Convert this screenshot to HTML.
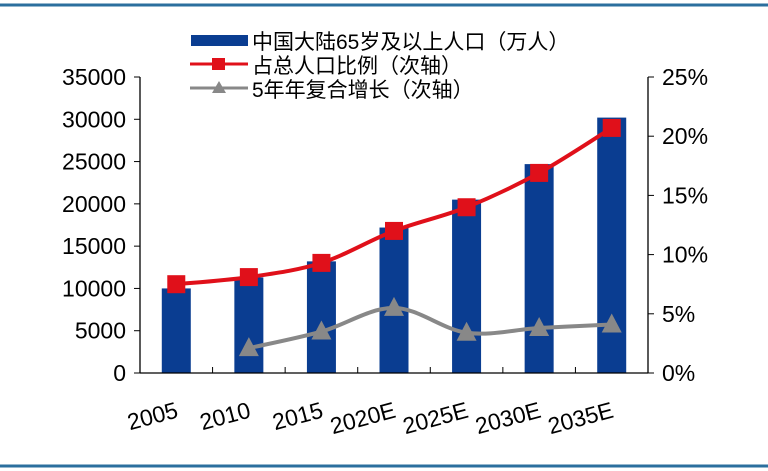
<!DOCTYPE html>
<html><head><meta charset="utf-8"><style>
body{margin:0;background:#fff;}
svg{display:block;font-family:"Liberation Sans","Noto Sans CJK SC",sans-serif;}
</style></head><body>
<svg id="c" width="768" height="471">
<line x1="0" y1="5" x2="768" y2="5" stroke="#2b6f9e" stroke-width="3"/>
<line x1="0" y1="466" x2="768" y2="466" stroke="#2b6f9e" stroke-width="3"/>
<g>
<g><rect x="191" y="35" width="57" height="11" fill="#0a3d91"/><text x="252" y="49" font-size="21">中国大陆65岁及以上人口（万人）</text></g>
<g><line x1="190" y1="64" x2="248" y2="64" stroke="#e0101a" stroke-width="3"/><rect x="212" y="58" width="13" height="12" fill="#e0101a"/><text x="252" y="73" font-size="21">占总人口比例（次轴）</text></g>
<g><line x1="190" y1="88" x2="248" y2="88" stroke="#888" stroke-width="3"/><polygon points="219,81 226,93 212,93" fill="#888"/><text x="252" y="97" font-size="21">5年年复合增长（次轴）</text></g>
</g>
<g id="plot"></g>
</svg>
<script>
const categories=["2005","2010","2015","2020E","2025E","2030E","2035E"];
const population=[10000,11300,13200,17200,20500,24700,30200];
const shareOfTotal=[7.5,8.1,9.3,12.0,14.0,16.9,20.7];
const cagr5y=[null,2.1,3.5,5.5,3.4,3.8,4.1];
const leftTicks=[0,5000,10000,15000,20000,25000,30000,35000];
const rightTicks=[0,5,10,15,20,25];

const NS="http://www.w3.org/2000/svg";
const g=document.getElementById('plot');
const X0=140,X1=648,Y0=373,Y1=77;
const bw=(X1-X0)/categories.length;
const xc=i=>X0+bw*(i+0.5);
const yL=v=>Y0-(v/35000)*(Y0-Y1);
const yR=v=>Y0-(v/25)*(Y0-Y1);
function el(t,a,txt){const e=document.createElementNS(NS,t);for(const k in a)e.setAttribute(k,a[k]);if(txt!=null)e.textContent=txt;g.appendChild(e);return e;}

population.forEach((v,i)=>{const r=el('rect',{x:xc(i)-14.5,y:yL(v),width:29,height:Y0-yL(v),fill:'#0a3d91'});

});

let a=el('line',{x1:X0,y1:Y1,x2:X0,y2:Y0,stroke:'#000','stroke-width':1.3});

a=el('line',{x1:X0,y1:Y0,x2:X1,y2:Y0,stroke:'#000','stroke-width':1.3});

a=el('line',{x1:X1,y1:Y1,x2:X1,y2:Y0,stroke:'#000','stroke-width':1.3});


leftTicks.forEach(v=>{el('line',{x1:X0-6,y1:yL(v),x2:X0,y2:yL(v),stroke:'#000'});
const t=el('text',{x:X0-14,y:yL(v)+8,'font-size':23,'text-anchor':'end'},v);
});
rightTicks.forEach(v=>{el('line',{x1:X1,y1:yR(v),x2:X1+6,y2:yR(v),stroke:'#000'});
const t=el('text',{x:X1+14,y:yR(v)+8,'font-size':23},v+'%');
});
for(let i=1;i<categories.length;i++)el('line',{x1:X0+bw*i,y1:Y0,x2:X0+bw*i,y2:Y0-6,stroke:'#000'});
categories.forEach((c,i)=>{const x=xc(i)+3,y=Y0+44;
const t=el('text',{x:x,y:y,'font-size':23,'text-anchor':'end',transform:`rotate(-15 ${x} ${y})`},c);
});

function smooth(pts){let d=`M${pts[0][0]},${pts[0][1]}`;for(let i=0;i<pts.length-1;i++){const p0=pts[i-1]||pts[i],p1=pts[i],p2=pts[i+1],p3=pts[i+2]||p2;
d+=` C${p1[0]+(p2[0]-p0[0])/6},${p1[1]+(p2[1]-p0[1])/6} ${p2[0]-(p3[0]-p1[0])/6},${p2[1]-(p3[1]-p1[1])/6} ${p2[0]},${p2[1]}`;}return d;}

const sp=shareOfTotal.map((v,i)=>[xc(i),yR(v)]);
let l=el('path',{d:smooth(sp),fill:'none',stroke:'#e0101a','stroke-width':4});

sp.forEach(p=>{const m=el('rect',{x:p[0]-9,y:p[1]-9,width:18,height:18,fill:'#e0101a'});
});

const gp=[];cagr5y.forEach((v,i)=>{if(v!=null)gp.push([xc(i),yR(v)]);});
l=el('path',{d:smooth(gp),fill:'none',stroke:'#888','stroke-width':4});

gp.forEach(p=>{const m=el('polygon',{points:`${p[0]},${p[1]-11} ${p[0]+10},${p[1]+8} ${p[0]-10},${p[1]+8}`,fill:'#888'});
});
</script>
</body></html>
